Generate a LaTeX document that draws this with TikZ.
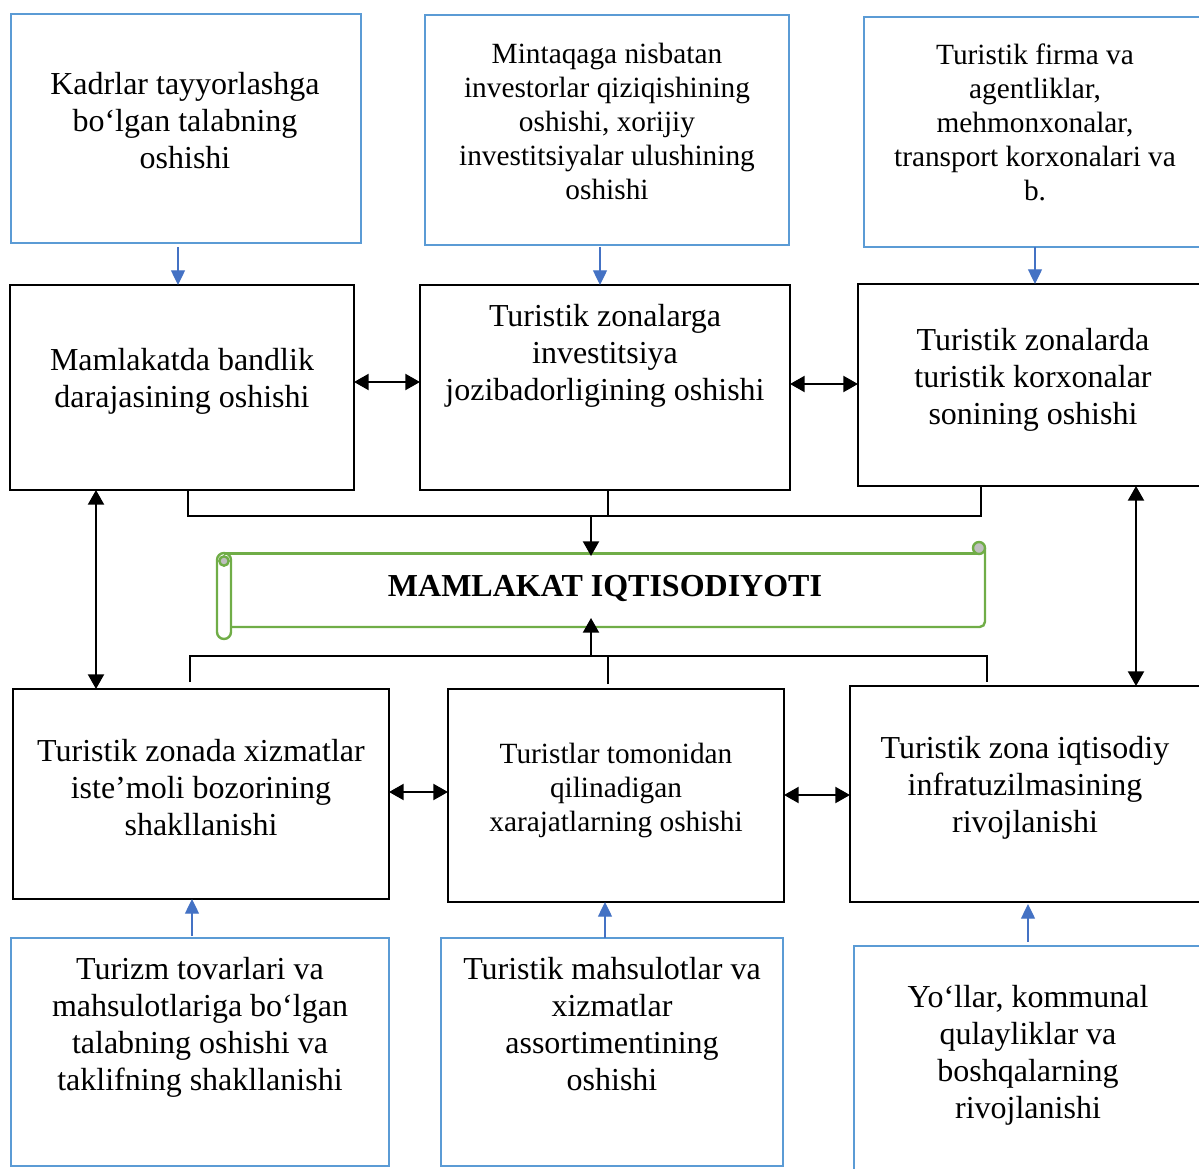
\documentclass[tikz,border=0pt]{standalone}
\usepackage{fontspec}
\setmainfont{Liberation Serif}
\usetikzlibrary{arrows.meta,calc}

\definecolor{boxblue}{HTML}{5B9BD5}
\definecolor{arrowblue}{HTML}{4472C4}
\definecolor{scrollgreen}{HTML}{70AD47}
\definecolor{curlgrey}{HTML}{BFBFBF}

\def\u{0.75pt}
\newcommand{\bigtxt}{\fontsize{24pt}{27.75pt}\selectfont}
\newcommand{\smalltxt}{\fontsize{22pt}{25.5pt}\selectfont}

\tikzset{
  frame/.style 2 args={rectangle, inner sep=0pt, outer sep=0pt,
    minimum width=#1*\u, minimum height=#2*\u},
  bluebox/.style={draw=boxblue, line width=1.8pt},
  blackbox/.style={draw=black, line width=1.5pt},
  txt/.style={align=center, inner sep=0pt, font=\bigtxt},
  txtsmall/.style={align=center, inner sep=0pt, font=\smalltxt},
  bluearrow/.style={draw=arrowblue, line width=1pt,
    -{Triangle[length=11pt,width=10.5pt]}, color=arrowblue},
  twoway/.style={line width=1.6pt,
    {Triangle[length=11pt,width=12pt]}-{Triangle[length=11pt,width=12pt]}},
  oneway/.style={line width=1.6pt, -{Triangle[length=11pt,width=12pt]}},
  bracket/.style={line width=1.5pt},
  scrollline/.style={draw=scrollgreen, line width=1.8pt}
}

\begin{document}
\begin{tikzpicture}[x=0.75pt, y=-0.75pt]
\useasboundingbox (0,0) rectangle (1199,1169);
\clip (0,0) rectangle (1199,1169);

% ---- top row: driving factors (blue frames)
\node[frame={350}{229}, bluebox] (b1) at (186,128.5) {};
\node[txt] (b1t) at (185,121) {Kadrlar tayyorlashga\\bo‘lgan talabning\\oshishi};

\node[frame={364}{230}, bluebox] (b2) at (607,130) {};
\node[txtsmall] (b2t) at (607,121) {Mintaqaga nisbatan\\investorlar qiziqishining\\oshishi, xorijiy\\investitsiyalar ulushining\\oshishi};

\node[frame={346}{230}, bluebox] (b3) at (1037,132) {};
\node[txtsmall] (b3t) at (1035,122) {Turistik firma va\\agentliklar,\\mehmonxonalar,\\transport korxonalari va\\b.};

% ---- upper row of effects
\node[frame={344}{205}, blackbox] (m1) at (182,387.5) {};
\node[txt] (m1t) at (182,381) {Mamlakatda bandlik\\darajasining oshishi};

\node[frame={370}{205}, blackbox] (m2) at (605,387.5) {};
\node[txt] (m2t) at (605,355.5) {Turistik zonalarga\\investitsiya\\jozibadorligining oshishi};

\node[frame={352}{202}, blackbox] (m3) at (1034,385) {};
\node[txt] (m3t) at (1033,379.5) {Turistik zonalarda\\turistik korxonalar\\sonining oshishi};

% ---- central scroll
\node[frame={755}{73}] (scroll) at (607.5,590.5) {};
\node[align=center, inner sep=0pt, font=\bigtxt\bfseries] (title) at (605,588) {MAMLAKAT IQTISODIYOTI};

% scroll outline: left roll, body edges and curls
\draw[scrollline, rounded corners=5.25pt] (217,553) rectangle (231,639);
\draw[scrollline, fill=curlgrey] (224,561) circle[radius=3.5pt];
\draw[scrollline] (224,553.5) -- (979,553.5);
\draw[scrollline, rounded corners=4pt] (231,627) -- (985,627) -- (985,548);
\draw[scrollline, fill=curlgrey] (979,548) circle[radius=4.5pt];

% ---- lower row of effects
\node[frame={376}{210}, blackbox] (m4) at (201,794) {};
\node[txt] (m4t) at (201,787.5) {Turistik zonada xizmatlar\\iste’moli bozorining\\shakllanishi};

\node[frame={336}{213}, blackbox] (m5) at (616,795.5) {};
\node[txtsmall] (m5t) at (616,790) {Turistlar tomonidan\\qilinadigan\\xarajatlarning oshishi};

\node[frame={360}{216}, blackbox] (m6) at (1030,794) {};
\node[txt] (m6t) at (1025,788) {Turistik zona iqtisodiy\\infratuzilmasining\\rivojlanishi};

% ---- bottom row: driving factors (blue frames)
\node[frame={378}{228}, bluebox] (b4) at (200,1052) {};
\node[txt] (b4t) at (200,1027) {Turizm tovarlari va\\mahsulotlariga bo‘lgan\\talabning oshishi va\\taklifning shakllanishi};

\node[frame={342}{228}, bluebox] (b5) at (612,1052) {};
\node[txt] (b5t) at (612,1024.5) {Turistik mahsulotlar va\\xizmatlar\\assortimentining\\oshishi};

\node[frame={356}{244}, bluebox] (b6) at (1032,1068) {};
\node[txt] (b6t) at (1028,1055) {Yo‘llar, kommunal\\qulayliklar va\\boshqalarning\\rivojlanishi};

% ---- blue arrows from the factors
\draw[bluearrow] ($(b1.south)+(-8,4)$) -- ($(m1.north)+(-4,0)$);
\draw[bluearrow] ($(b2.south)+(-7,2)$) -- ($(m2.north)+(-5,0)$);
\draw[bluearrow] ($(b3.south)+(-2,0)$) -- ($(m3.north)+(1,0)$);
\draw[bluearrow] ($(b4.north)+(-8,-2)$) -- ($(m4.south)+(-9,0)$);
\draw[bluearrow] ($(b5.north)+(-7,0)$) -- ($(m5.south)+(-11,0)$);
\draw[bluearrow] ($(b6.north)+(-4,-4)$) -- ($(m6.south)+(-2,2)$);

% ---- two-way links between effects
\draw[twoway] ($(m1.east)+(0,-5.5)$) -- ($(m2.west)+(0,-5.5)$);
\draw[twoway] ($(m2.east)+(0,-3.5)$) -- ($(m3.west)+(0,-1)$);
\draw[twoway] ($(m4.east)+(0,-2)$) -- ($(m5.west)+(0,-3.5)$);
\draw[twoway] ($(m5.east)+(0,-0.5)$) -- ($(m6.west)+(0,1)$);
\draw[twoway] ($(m1.south)+(-86,0)$) -- ($(m4.north)+(-105,0)$);
\draw[twoway] ($(m3.south)+(102,0)$) -- ($(m6.north)+(106,0)$);

% ---- upper bracket feeding the scroll
\draw[bracket] ($(m1.south)+(6,0)$) -- ++(0,26) coordinate (topjoin)
  -| ($(m3.south)+(-53,0)$);
\draw[bracket] ($(m2.south)+(3,0)$) -- ++(0,26);
\draw[oneway] ($(m2.south)+(-14,26)$) -- ($(scroll.north)+(-16.5,2)$);

% ---- lower bracket feeding the scroll
\draw[bracket] ($(m4.north)+(-11,-7)$) -- ++(0,-26) coordinate (botjoin)
  -| ($(m6.north)+(-43,-4)$);
\draw[bracket] ($(m5.north)+(-8,-5)$) -- ++(0,-28);
\draw[oneway] ($(m5.north)+(-25,-33)$) -- ($(scroll.south)+(-16.5,-9)$);

\end{tikzpicture}
\end{document}
